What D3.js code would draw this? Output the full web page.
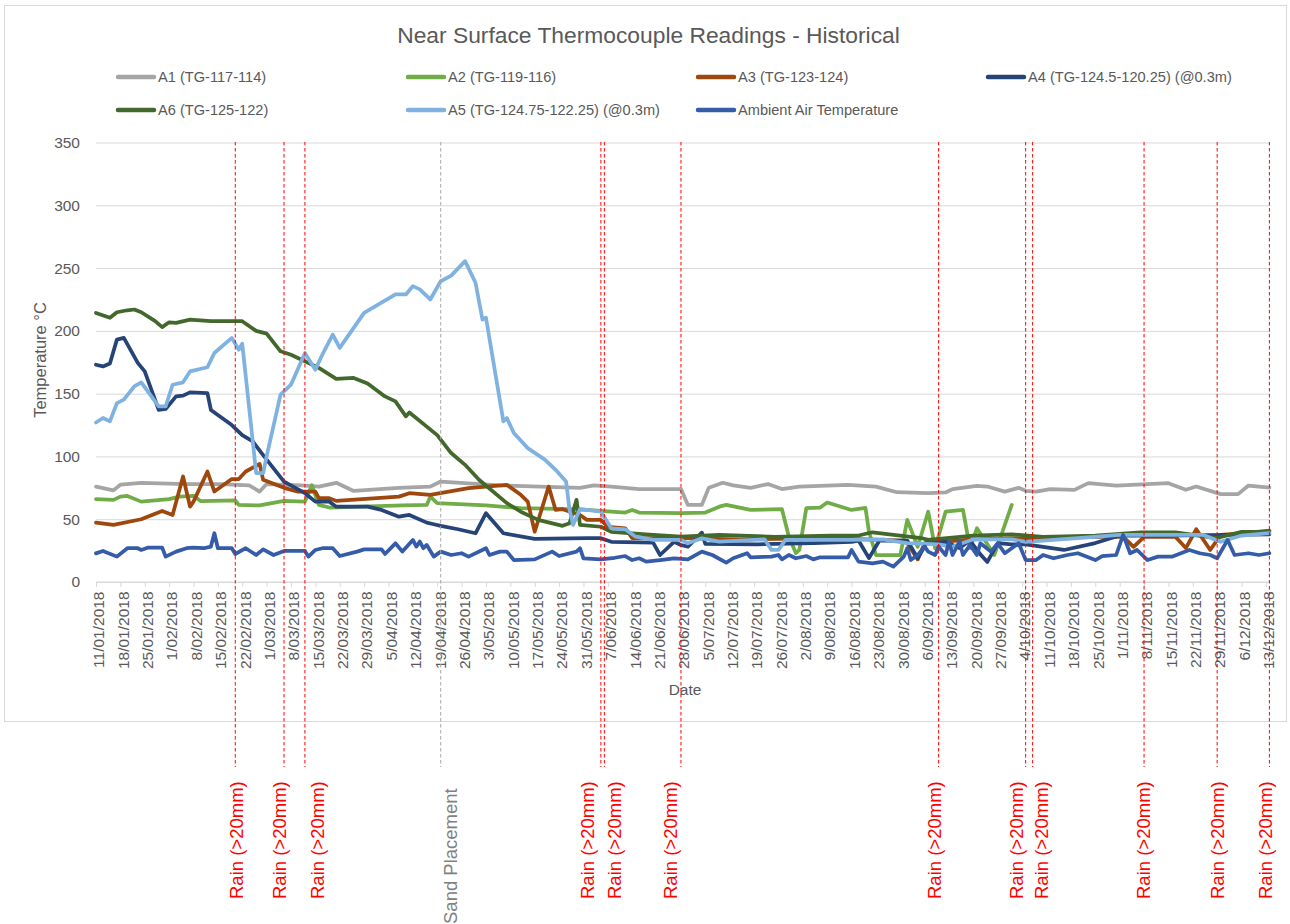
<!DOCTYPE html>
<html><head><meta charset="utf-8">
<script src="https://cdn.jsdelivr.net/npm/d3@7"></script>
<style>
body{margin:0;background:#fff}
svg{display:block;font-family:"Liberation Sans",Arial,sans-serif}
</style>
</head><body>
<svg id="chart" width="1290" height="924"></svg>
<script>
// ---------------- DATA ----------------
const YEAR = 2018;
const chartTitle = "Near Surface Thermocouple Readings - Historical";
const yTicks = [0, 50, 100, 150, 200, 250, 300, 350];
const xFirstTick = "01-11", xLastTick = "12-13", xDomainEnd = "12-14";

const seriesNames = ["A1 (TG-117-114)", "A2 (TG-119-116)", "A3 (TG-123-124)",
  "A4 (TG-124.5-120.25) (@0.3m)", "A6 (TG-125-122)", "A5 (TG-124.75-122.25) (@0.3m)",
  "Ambient Air Temperature"];

const a1 = [["01-11",76],["01-16",73],["01-18",77.5],["01-24",79],["02-06",78],["02-16",78],["02-24",77],["02-27",72],["03-01",78],["03-11",77],["03-16",76],["03-21",79],["03-26",72.5],["04-08",75],["04-17",76],["04-20",80],["05-07",77],["05-30",75],["06-03",77],["06-08",76],["06-16",74],["06-28",74],["06-30",61.4],["07-04",61.4],["07-06",75],["07-10",79],["07-13",77],["07-18",75],["07-23",78],["07-27",74],["08-01",76],["08-15",77.4],["08-23",76],["08-29",71.5],["09-07",70.8],["09-12",71.3],["09-14",74],["09-21",76.6],["09-24",76],["09-29",72],["10-03",75],["10-05",72.6],["10-08",72],["10-12",74],["10-19",73.4],["10-23",78.7],["10-31",76.8],["11-15",78.7],["11-20",73.4],["11-23",76],["11-30",70],["12-05",70],["12-08",76.8],["12-14",75.2]];

const a2 = [["01-11",66],["01-16",65.4],["01-18",68],["01-20",68.5],["01-24",64],["02-01",66],["02-04",68],["02-08",68.6],["02-10",64.5],["02-20",65],["02-21",61.4],["02-27",61],["03-06",64.6],["03-12",64],["03-14",77],["03-16",61.4],["03-19",59.3],["04-09",61],["04-16",61.4],["04-17",68],["04-19",62.8],["05-03",61],["05-13",58.8],["05-27",58],["06-01",57.4],["06-05",56.6],["06-12",55.3],["06-14",57.4],["06-16",55.3],["06-28",54.8],["07-05",55.3],["07-09",60],["07-11",61.4],["07-18",57.4],["07-27",58],["07-29",36],["07-31",23],["08-01",25.5],["08-03",58.8],["08-07",59.3],["08-09",63.3],["08-16",57.4],["08-20",59],["08-21",40],["08-23",21.5],["08-30",21.5],["09-01",49.5],["09-04",28],["09-07",56],["09-09",27],["09-12",56],["09-17",57.4],["09-19",27],["09-21",42.8],["09-26",21.5],["10-01",61.4]];

const a3 = [["01-11",47.3],["01-16",45.5],["01-24",50],["01-30",56.6],["02-02",53.4],["02-05",84],["02-07",60],["02-08",64],["02-12",88],["02-14",72],["02-19",82],["02-21",82],["02-23",88],["02-27",94],["02-28",81.4],["03-06",75],["03-10",72],["03-15",72],["03-16",66.8],["03-19",66.8],["03-21",64.6],["04-08",68],["04-11",70.7],["04-17",69.4],["04-28",74.7],["05-03",76],["05-09",77.4],["05-13",69.4],["05-15",64],["05-17",40],["05-21",76],["05-23",57.4],["05-25",58],["05-30",53.4],["06-01",49.5],["06-05",49.5],["06-07",44],["06-12",42.8],["06-14",35],["06-28",35],["07-15",34],["08-10",35],["08-30",33],["09-01",31],["09-04",18],["09-06",31],["09-20",34],["10-05",35],["10-20",36],["11-02",36],["11-05",28],["11-08",36],["11-17",36],["11-20",27],["11-23",42],["11-27",25.5],["11-30",37.5],["12-06",38.8],["12-14",41]];

const a4 = [["01-11",173],["01-13",171.7],["01-15",174],["01-17",193],["01-19",194.4],["01-23",174.5],["01-25",167.7],["01-29",137],["01-31",137.8],["02-03",147.8],["02-05",148.4],["02-07",151],["02-12",150.5],["02-13",137],["02-19",125],["02-22",117],["02-25",112],["02-28",101],["03-06",80],["03-12",70.7],["03-15",64],["03-19",64],["03-21",60],["03-30",60],["04-03",57.4],["04-08",52],["04-11",53.4],["04-16",47.3],["04-18",46],["04-20",44.7],["04-25",42],["04-30",38.8],["05-03",54.8],["05-08",38.8],["05-17",34.3],["06-01",34.9],["06-05",34.9],["06-08",32],["06-20",31.4],["06-22",21.5],["06-26",32],["06-28",29.5],["06-30",28.2],["07-04",39.3],["07-05",30.3],["07-20",30],["08-05",31],["08-16",32],["08-18",33],["08-21",19],["08-24",33],["09-01",33],["09-04",19],["09-07",33],["09-12",32],["09-16",27],["09-19",33],["09-22",22],["09-24",16],["09-27",31],["10-01",30],["10-05",30],["10-16",25.5],["10-25",31],["11-01",37],["11-14",37],["12-14",38]];

const a6 = [["01-11",214.3],["01-15",210.4],["01-17",214.8],["01-20",216.4],["01-22",217],["01-24",214.8],["01-28",207.7],["01-30",203],["02-01",206.8],["02-03",206.3],["02-07",209],["02-13",207.7],["02-22",207.7],["02-26",200],["03-01",197.8],["03-05",183.7],["03-08",181],["03-16",170.5],["03-21",161.7],["03-26",162.5],["03-30",158],["04-04",147.8],["04-07",143.8],["04-10",131.9],["04-11",135],["04-19",117],["04-23",102.7],["04-27",93.3],["05-01",81.4],["05-09",62.8],["05-13",56],["05-18",49.5],["05-25",44.7],["05-27",46.8],["05-29",65.4],["05-30",45.5],["06-05",44],["06-08",40],["06-14",38.8],["06-20",37.5],["06-28",36.1],["07-09",37.5],["07-25",36],["08-10",37],["08-18",37],["08-22",39.6],["09-05",35],["09-07",33.5],["09-20",37],["10-01",38],["10-10",36],["10-25",37],["11-07",39.6],["11-17",39.6],["11-29",35],["12-06",40],["12-14",40]];

const a5 = [["01-11",127],["01-13",130.6],["01-15",127.9],["01-17",142.5],["01-19",145.2],["01-22",155.8],["01-24",159],["01-29",139.8],["01-31",139.8],["02-02",157.1],["02-05",159],["02-07",167.7],["02-12",171],["02-14",182.4],["02-19",194.4],["02-21",185],["02-22",189.8],["02-26",86.7],["02-28",86.7],["03-01",100],["03-05",149.2],["03-08",157.1],["03-12",182.4],["03-15",169.1],["03-17",181],["03-20",197],["03-22",186.4],["03-26",202.4],["03-29",214.3],["04-07",229],["04-10",229],["04-12",235.6],["04-14",233],["04-17",225],["04-20",239.5],["04-23",244],["04-27",255.5],["04-30",238.3],["05-02",209],["05-03",210.4],["05-08",127.9],["05-09",130.6],["05-11",118.6],["05-15",106.6],["05-20",97.3],["05-23",89.3],["05-26",80],["05-27",57.4],["05-28",45.5],["05-30",58],["06-01",57.4],["06-05",56],["06-08",42.8],["06-12",42],["06-15",36.1],["06-20",33.5],["06-28",33.5],["06-30",30.8],["07-04",34.8],["07-09",32.2],["07-22",34],["07-24",25.5],["07-26",25.5],["07-28",33.5],["08-15",33.5],["08-25",34],["09-01",31],["09-10",30],["09-14",28],["09-20",34],["10-01",34],["10-05",32],["10-20",35],["11-01",37.5],["11-25",37.5],["11-30",32],["12-06",37],["12-14",39]];

const ambient = [["01-11",22.8],["01-13",24.7],["01-17",20.2],["01-20",26.9],["01-23",26.9],["01-24",25.5],["01-26",27.4],["01-30",27.4],["01-31",20.2],["02-03",24.2],["02-06",26.9],["02-08",27.4],["02-11",26.9],["02-13",28.2],["02-14",38.8],["02-15",26.9],["02-19",26.9],["02-20",22.3],["02-23",26.9],["02-26",21.5],["02-28",26],["03-03",21.5],["03-06",24.7],["03-12",24.7],["03-13",20.2],["03-15",25.5],["03-17",26.9],["03-20",26.9],["03-22",20.7],["03-27",24.2],["03-29",26],["04-03",26],["04-04",22.3],["04-07",30.8],["04-09",24.2],["04-12",33.5],["04-13",28.2],["04-14",32.2],["04-15",26.9],["04-16",29.5],["04-18",20.2],["04-20",24.2],["04-23",21.5],["04-26",22.9],["04-28",20.2],["05-03",26.9],["05-04",21.5],["05-07",24.2],["05-09",24.2],["05-11",17.5],["05-17",18],["05-22",24.2],["05-24",20.7],["05-29",24.2],["05-30",26.9],["05-31",18.9],["06-05",18],["06-09",19.3],["06-12",20.7],["06-14",17.5],["06-16",18.9],["06-18",16.2],["06-22",17.5],["06-26",18.9],["06-30",18],["07-04",24.2],["07-07",21.5],["07-11",15.4],["07-13",18.9],["07-17",22.9],["07-18",19.7],["07-24",20.2],["07-26",21.5],["07-27",18],["07-29",21.5],["07-31",18.9],["08-03",20.7],["08-05",18],["08-07",19.7],["08-15",19.7],["08-16",25.5],["08-18",16.2],["08-22",14.9],["08-25",16.2],["08-28",12.2],["08-31",20.2],["09-01",26.9],["09-02",17.5],["09-04",21.5],["09-06",28.2],["09-07",24.2],["09-09",21.5],["09-10",28.2],["09-12",21.5],["09-13",32.2],["09-14",21.5],["09-16",32.2],["09-17",21.5],["09-19",29.5],["09-21",21.5],["09-22",30.8],["09-25",24.2],["09-27",30.8],["09-29",22.9],["10-01",26.9],["10-03",30.8],["10-05",17.5],["10-08",17.5],["10-10",21.5],["10-13",18.9],["10-17",21.5],["10-20",22.9],["10-25",17.5],["10-27",20.7],["10-31",21.5],["11-02",37.5],["11-04",22.9],["11-06",25.5],["11-09",17.5],["11-12",20.2],["11-16",20.2],["11-21",25.5],["11-24",22.9],["11-27",21.5],["11-29",18.9],["12-02",33.5],["12-04",21.5],["12-08",22.9],["12-11",21.5],["12-14",22.9]];

const rainDates = ["02-20","03-06","03-12","06-05","06-06","06-28","09-10","10-05","10-07","11-08","11-29","12-14"];
const rainLabel = "Rain (>20mm)";
const sandDate = "04-20";
const sandLabel = "Sand Placement";

// ---------------- STYLE / LAYOUT ----------------
const seriesData = [a1, a2, a3, a4, a6, a5, ambient];
const seriesColors = ["#a5a5a5", "#70ad47", "#9e480e", "#264478", "#43682b", "#7fb2e0", "#355ca8"];
const legendCols = [118, 408, 698, 988];
const legendRows = [77, 110];
const legendPos = [[0,0],[1,0],[2,0],[3,0],[0,1],[1,1],[2,1]];
const rainLabelShift = [2.7, -3, 14, -12, 11.6, -9, -2, -7.7, 10.3, 1, 1.8, -2.4];
const sandLabelShift = 9.3;

const W = 1290, H = 924;
const plot = {left: 96, right: 1269.4, top: 142.5, bottom: 582};
const textColor = "#595959";
const gridColor = "#d9d9d9";

const parse = s => d3.utcParse("%Y-%m-%d")(YEAR + "-" + s);
const svg = d3.select("#chart");

svg.append("rect").attr("width", W).attr("height", H).attr("fill", "#fff");
svg.append("rect").attr("x", 4.5).attr("y", 5.5).attr("width", 1282).attr("height", 716)
  .attr("fill", "#fff").attr("stroke", gridColor).attr("stroke-width", 1);

const x = d3.scaleUtc().domain([parse(xFirstTick), parse(xDomainEnd)]).range([plot.left, plot.right]);
const y = d3.scaleLinear().domain([0, 350]).range([plot.bottom, plot.top]);

// title
svg.append("text").attr("x", 648.5).attr("y", 43).attr("text-anchor", "middle")
  .attr("fill", textColor).attr("font-size", 22.8).text(chartTitle);

// gridlines + y labels
const yAxis = d3.axisLeft(y).tickValues(yTicks).tickSize(-(plot.right + 1 - plot.left)).tickPadding(16).tickFormat(d3.format("d"));
const gy = svg.append("g").attr("transform", `translate(${plot.left},0)`).call(yAxis);
gy.select(".domain").remove();
gy.selectAll(".tick line").attr("stroke", gridColor).attr("stroke-width", 1);
gy.selectAll(".tick text").attr("fill", textColor).attr("font-size", 15.5)
  .attr("font-family", '"Liberation Sans",Arial,sans-serif').attr("x", -16);

// x axis
const weekTicks = d3.utcThursday.range(parse(xFirstTick), d3.utcDay.offset(parse(xLastTick), 1));
const fmt = d3.utcFormat("%-d/%m/%Y");
const xAxis = d3.axisBottom(x).tickValues(weekTicks).tickSize(5).tickSizeOuter(0).tickFormat(fmt);
const gx = svg.append("g").attr("transform", `translate(0,${plot.bottom})`).call(xAxis);
gx.select(".domain").attr("stroke", gridColor).attr("d", `M${plot.left},0H${plot.right + 1}`);
gx.selectAll(".tick line").attr("stroke", gridColor);
gx.selectAll(".tick text").attr("fill", textColor).attr("font-size", 15.5)
  .attr("font-family", '"Liberation Sans",Arial,sans-serif')
  .attr("text-anchor", "end").attr("dy", null).attr("y", 0)
  .attr("transform", "translate(7.8,9.5) rotate(-90)");

// axis titles
svg.append("text").attr("transform", "translate(46,360) rotate(-90)").attr("text-anchor", "middle")
  .attr("fill", textColor).attr("font-size", 16.5).text("Temperature °C");
svg.append("text").attr("x", 685).attr("y", 695).attr("text-anchor", "middle")
  .attr("fill", textColor).attr("font-size", 15.5).text("Date");

// series
const line = d3.line().x(d => x(parse(d[0]))).y(d => y(d[1]));
const gs = svg.append("g");
seriesData.forEach((data, i) => {
  gs.append("path").datum(data).attr("d", line).attr("fill", "none")
    .attr("stroke", seriesColors[i]).attr("stroke-width", 3.75)
    .attr("stroke-linejoin", "round").attr("stroke-linecap", "round");
});

// legend
seriesNames.forEach((name, i) => {
  const [c, r] = legendPos[i];
  const lx = legendCols[c], ly = legendRows[r];
  svg.append("line").attr("x1", lx).attr("x2", lx + 36).attr("y1", ly).attr("y2", ly)
    .attr("stroke", seriesColors[i]).attr("stroke-width", 4.5).attr("stroke-linecap", "round");
  svg.append("text").attr("x", lx + 40).attr("y", ly + 5.3).attr("fill", textColor)
    .attr("font-size", 14.6).text(name);
});

// rain markers
const gm = svg.append("g");
rainDates.forEach((d, i) => {
  const px = x(parse(d));
  gm.append("line").attr("x1", px).attr("x2", px).attr("y1", 142).attr("y2", 767)
    .attr("stroke", "#ff0000").attr("stroke-width", 1).attr("stroke-dasharray", "3.5,2.5");
  const cx = px + rainLabelShift[i] + 4.8;
  gm.append("text").attr("transform", `translate(${cx},899) rotate(-90)`)
    .attr("fill", "#ff0000").attr("font-size", 18.5).text(rainLabel);
});
const sx = x(parse(sandDate));
gm.append("line").attr("x1", sx).attr("x2", sx).attr("y1", 142).attr("y2", 767)
  .attr("stroke", "#a6a6a6").attr("stroke-width", 1).attr("stroke-dasharray", "3.5,2.5");
gm.append("text").attr("transform", `translate(${sx + sandLabelShift + 6.7},924) rotate(-90)`)
  .attr("fill", "#808080").attr("font-size", 18.5).text(sandLabel);
</script>
</body></html>
